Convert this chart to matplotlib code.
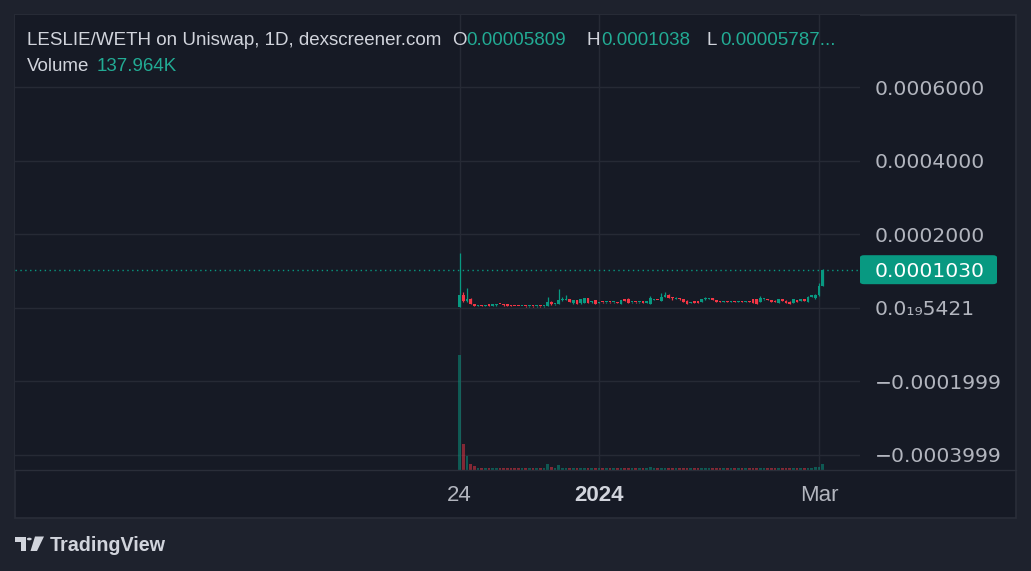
import datetime as dt
import matplotlib
matplotlib.use("Agg")
import matplotlib.pyplot as plt
import matplotlib.dates as mdates
from matplotlib.patches import Rectangle, FancyBboxPatch, Polygon, Circle
from matplotlib.lines import Line2D
from matplotlib.transforms import blended_transform_factory

# ---------------- data (prices in units of 1e-5 WETH) ----------------
PRICE_UNIT = 1e-5
start_date = dt.date(2023, 11, 24)
n_days = 100

opens = [0.20, 3.50, 1.80, 2.40, 1.00, 0.40, 0.60, 0.50, 0.65, 0.55,
         0.60, 0.95, 1.00, 0.60, 0.55, 0.45, 0.40, 0.35, 0.40, 0.30,
         0.35, 0.30, 0.35, 0.30, 0.40, 1.45, 0.85, 1.00, 2.00, 2.10,
         2.30, 1.20, 2.00, 1.20, 1.30, 2.60, 1.40, 2.00, 1.30, 1.45,
         1.40, 1.50, 1.40, 1.45, 1.10, 2.00, 2.40, 1.40, 1.50, 1.40,
         1.45, 1.35, 1.10, 2.00, 2.05, 1.70, 2.90, 3.50, 2.60, 2.40,
         2.60, 2.20, 1.90, 1.30, 1.70, 1.45, 1.60, 2.40, 2.30, 2.50,
         2.00, 1.70, 1.50, 1.60, 1.55, 1.65, 1.50, 1.60, 1.50, 1.65,
         2.20, 2.20, 1.45, 2.20, 2.40, 2.00, 1.90, 1.30, 2.20, 1.90,
         1.60, 1.30, 2.00, 1.70, 2.40, 1.50, 2.90, 2.50, 3.30, 5.809]
closes = [3.50, 1.70, 2.40, 1.00, 0.40, 0.60, 0.50, 0.65, 0.55, 0.85,
          0.95, 0.90, 0.60, 0.55, 0.45, 0.40, 0.35, 0.40, 0.30, 0.35,
          0.30, 0.35, 0.30, 0.40, 1.45, 0.85, 1.00, 2.00, 2.10, 2.30,
          1.50, 2.00, 1.10, 2.20, 2.60, 1.30, 1.60, 1.10, 1.45, 1.40,
          1.50, 1.40, 1.45, 1.30, 2.00, 1.90, 1.30, 1.50, 1.40, 1.45,
          1.35, 1.45, 2.60, 2.10, 2.00, 2.90, 3.50, 2.60, 2.50, 2.70,
          2.20, 1.50, 1.10, 1.50, 1.30, 1.35, 2.40, 2.50, 2.50, 2.00,
          1.60, 1.45, 1.60, 1.55, 1.65, 1.50, 1.60, 1.50, 1.65, 1.55,
          1.30, 1.10, 2.60, 2.40, 2.00, 1.60, 1.45, 2.40, 1.70, 1.30,
          1.10, 2.20, 1.45, 2.40, 1.80, 3.00, 3.30, 3.50, 5.809, 10.30]
highs = [14.90, 4.20, 5.40, 2.60, 1.10, 0.70, 0.65, 0.70, 0.70, 0.90,
         1.00, 1.00, 1.05, 0.65, 0.60, 0.50, 0.45, 0.45, 0.45, 0.40,
         0.40, 0.40, 0.40, 0.45, 3.00, 1.70, 1.10, 5.10, 3.00, 3.30,
         2.40, 2.10, 2.10, 2.30, 2.70, 2.70, 1.70, 2.10, 1.55, 1.50,
         1.55, 1.55, 1.50, 1.50, 2.10, 2.05, 2.50, 1.55, 1.55, 1.50,
         1.50, 1.50, 3.26, 2.20, 2.10, 4.00, 4.20, 3.60, 3.00, 2.80,
         2.65, 2.25, 1.95, 1.55, 1.75, 1.50, 2.45, 2.90, 2.55, 2.55,
         2.05, 1.75, 1.65, 1.65, 1.70, 1.70, 1.65, 1.65, 1.70, 1.70,
         2.25, 2.25, 3.26, 2.45, 2.45, 2.05, 1.95, 2.45, 2.25, 1.95,
         1.65, 2.25, 2.05, 2.45, 2.45, 3.10, 3.40, 3.60, 6.70, 10.38]
lows = [0.15, 1.40, 1.60, 0.90, 0.35, 0.35, 0.45, 0.45, 0.50, 0.50,
        0.55, 0.85, 0.55, 0.50, 0.40, 0.35, 0.30, 0.30, 0.25, 0.25,
        0.25, 0.25, 0.25, 0.25, 0.35, 0.80, 0.80, 0.95, 1.90, 2.00,
        1.40, 1.10, 1.00, 1.10, 1.20, 1.20, 1.30, 1.00, 1.25, 1.35,
        1.35, 1.35, 1.35, 1.25, 1.05, 1.85, 1.25, 1.35, 1.35, 1.35,
        1.30, 1.30, 1.05, 1.95, 1.95, 1.65, 2.85, 2.50, 2.10, 2.35,
        2.15, 1.45, 1.05, 1.25, 1.25, 1.30, 1.55, 2.00, 2.25, 1.95,
        1.55, 1.40, 1.45, 1.50, 1.50, 1.45, 1.45, 1.45, 1.45, 1.50,
        1.25, 1.05, 1.40, 2.15, 1.95, 1.55, 1.40, 1.25, 1.65, 1.25,
        1.05, 1.25, 1.40, 1.65, 1.75, 1.45, 2.85, 2.45, 3.20, 5.787]
volumes_k = [2640, 600, 320, 140, 90, 52, 48, 50, 55, 47,
             51, 49, 53, 46, 50, 48, 52, 47, 49, 51,
             46, 50, 48, 52, 140, 60, 50, 115, 55, 52,
             49, 53, 47, 50, 52, 48, 51, 46, 50, 49,
             53, 47, 50, 48, 52, 49, 51, 46, 50, 48,
             52, 47, 75, 50, 48, 53, 49, 51, 47, 50,
             52, 48, 46, 50, 53, 49, 51, 47, 50, 48,
             52, 46, 49, 51, 50, 47, 53, 48, 50, 49,
             51, 47, 52, 48, 50, 46, 53, 49, 51, 47,
             50, 48, 52, 49, 51, 53, 56, 60, 75, 138]

price_ticks = [0.0006, 0.0004, 0.0002, 5.421e-24, -0.0001999, -0.0003999]
price_tick_labels = ["0.0006000", "0.0004000", "0.0002000", "0.0\u2081\u20895421",
                     "\u22120.0001999", "\u22120.0003999"]
time_ticks = [dt.date(2023, 11, 24), dt.date(2024, 1, 1), dt.date(2024, 3, 1)]
time_tick_labels = ["24", "2024", "Mar"]
last_price_label = "0.0001030"
header_title = "LESLIE/WETH on Uniswap, 1D, dexscreener.com"
header_ohlc = [("O", "0.00005809"), ("H", "0.0001038"), ("L", "0.00005787...")]
volume_label = "137.964K"

# ---------------- style ----------------
W, H = 1031, 571
OUTER = "#1e222d"
INNER = "#161a25"
BORDER = "#2a2e39"
GRID = "#262a35"
UP = "#089981"
DOWN = "#f23645"
TXT = "#d1d4dc"
AXTXT = "#b2b5be"
VALGREEN = "#22ab94"
HFONT = ["Liberation Sans", "DejaVu Sans"]


def fx(px):
    return px / W


def fy(py):
    return 1 - py / H


fig = plt.figure(figsize=(W / 100, H / 100), dpi=100)
fig.patch.set_facecolor(OUTER)
fig.patches.append(Rectangle((fx(15), fy(518)), fx(1016) - fx(15), fy(15) - fy(518),
                             transform=fig.transFigure, facecolor=INNER,
                             edgecolor=BORDER, lw=1.2, zorder=-10))

ax = fig.add_axes([fx(15), fy(470), fx(860) - fx(15), fy(15) - fy(470)])
ax.set_zorder(1)
ax.set_facecolor(INNER)
for s in ax.spines.values():
    s.set_visible(False)

dates = [start_date + dt.timedelta(days=i) for i in range(n_days)]
x = mdates.date2num(dates)
o = [v * PRICE_UNIT for v in opens]
c = [v * PRICE_UNIT for v in closes]
hi = [v * PRICE_UNIT for v in highs]
lo = [v * PRICE_UNIT for v in lows]
cols = [UP if cc >= oo else DOWN for oo, cc in zip(o, c)]

# volume (bottom pane overlay, max bar = 25.3% of pane height)
vmax = max(volumes_k)
vtrans = blended_transform_factory(ax.transData, ax.transAxes)
ax.bar(x, [v / vmax * 0.253 for v in volumes_k], width=0.72, bottom=0,
       color=cols, alpha=0.5, transform=vtrans, zorder=2, linewidth=0)

# candles
min_body = 0.3 * PRICE_UNIT
ax.vlines(x, lo, hi, colors=cols, lw=0.9, zorder=3)
ax.bar(x, [max(abs(cc - oo), min_body) for oo, cc in zip(o, c)], width=0.75,
       bottom=[min(oo, cc) for oo, cc in zip(o, c)], color=cols, linewidth=0, zorder=4)

# last price dotted line
ax.axhline(c[-1], color=UP, lw=1, ls=(0, (1, 2.5)), zorder=3)

# axes
x0 = mdates.date2num(start_date)
ax.set_xlim(x0 - 121.27, x0 + 109.16)
ax.set_ylim(-0.000442, 0.000796)
ax.set_xticks(mdates.date2num(time_ticks))
ax.set_xticklabels(time_tick_labels)
ax.yaxis.tick_right()
ax.set_yticks(price_ticks)
ax.set_yticklabels(price_tick_labels)
ax.tick_params(axis="y", length=0, pad=10.8, labelsize=14.6, labelcolor=AXTXT)
ax.tick_params(axis="x", length=0, pad=11, labelsize=16, labelcolor=AXTXT)
for lab in ax.get_xticklabels():
    lab.set_family(HFONT)
    if lab.get_text() == "2024":
        lab.set_fontweight("bold")
        lab.set_color(TXT)
ax.grid(True, color=GRID, lw=1, zorder=0)
ax.set_axisbelow(True)

# separator between plot and time axis
fig.lines.append(Line2D([fx(15), fx(1016)], [fy(470), fy(470)], transform=fig.transFigure,
                        color=BORDER, lw=1, zorder=5))

# last price label box
ypix = ax.transData.transform((x0, c[-1]))[1]
fig.patches.append(FancyBboxPatch((fx(860), (ypix - 14.5) / H), fx(997) - fx(860), 29 / H,
                                  boxstyle="round,pad=0,rounding_size=0.004",
                                  transform=fig.transFigure, facecolor=UP,
                                  edgecolor="none", zorder=5))
fig.text(fx(875), ypix / H, last_price_label, color="white", fontsize=14.6,
         va="center_baseline", ha="left", zorder=6)

# header
renderer = fig.canvas.get_renderer()
t = fig.text(fx(27), fy(45), header_title, color=TXT, fontsize=13, family=HFONT,
             va="baseline", ha="left", zorder=6)
wpx = t.get_window_extent(renderer).width
hfs = 13 * 413 / wpx
t.set_fontsize(hfs)
ohlc_x = [(452, 466), (587, 601), (707, 720)]
for (k, v), (xk, xv) in zip(header_ohlc, ohlc_x):
    fig.text(fx(xk), fy(45), k, color=TXT, fontsize=hfs, family=HFONT, va="baseline", zorder=6)
    fig.text(fx(xv), fy(45), v, color=VALGREEN, fontsize=hfs, family=HFONT, va="baseline", zorder=6)
fig.text(fx(27), fy(71), "Volume", color=TXT, fontsize=hfs, family=HFONT, va="baseline", zorder=6)
fig.text(fx(97), fy(71), volume_label, color=VALGREEN, fontsize=hfs, family=HFONT,
         va="baseline", zorder=6)

# TradingView logo
def P(pts):
    return [(fx(a), fy(b)) for a, b in pts]

LOGO = "#d1d4dc"
fig.patches.append(Polygon(P([(15, 536.5), (26, 536.5), (26, 551), (20.5, 551),
                              (20.5, 541.5), (15, 541.5)]), closed=True,
                           transform=fig.transFigure, facecolor=LOGO, edgecolor="none"))
fig.patches.append(Circle((fx(29.3), fy(539)), 2.4 / W, transform=fig.transFigure,
                          facecolor=LOGO, edgecolor="none"))
fig.patches.append(Polygon(P([(35, 536.5), (44, 536.5), (37, 551), (30.5, 551)]), closed=True,
                           transform=fig.transFigure, facecolor=LOGO, edgecolor="none"))
tl = fig.text(fx(50), fy(551), "TradingView", color=LOGO, fontsize=14, family=HFONT,
              va="baseline", ha="left", fontweight="bold")
wl = tl.get_window_extent(renderer).width
tl.set_fontsize(14 * 116 / wl)

fig.savefig("out.png", dpi=100, facecolor=OUTER)
